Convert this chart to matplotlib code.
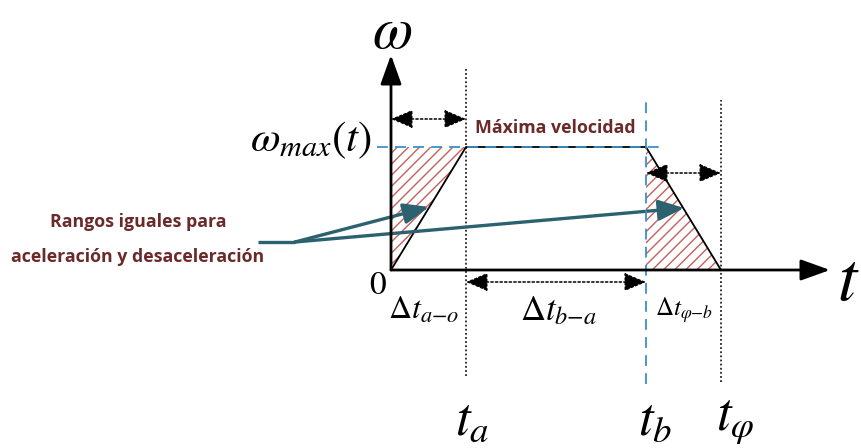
import matplotlib.pyplot as plt
from matplotlib.patches import Polygon

plt.rcParams['mathtext.fontset'] = 'stix'
plt.rcParams['font.family'] = ['DejaVu Sans']

# tiempos característicos y velocidad máxima (unidades arbitrarias)
t_a = 1.0
t_b = 3.4
t_phi = 4.4
w_max = 1.64

# perfil trapezoidal de velocidad
perfil_t = [0, t_a, t_b, t_phi]
perfil_w = [0, w_max, w_max, 0]

rojo_txt = '#6b2a2a'
teal = '#2c6170'
azul = '#3b8fc9'
rojo_hatch = '#c65f5c'

S = 75.0            # px por unidad
X0, Y0 = 391, 270   # origen en px

fig = plt.figure(figsize=(8.62, 4.48), dpi=100)
ax = fig.add_axes([0, 0, 1, 1])
ax.set_xlim(-X0 / S, (862 - X0) / S)
ax.set_ylim(-(448 - Y0) / S, Y0 / S)
ax.axis('off')


def px(x, y):
    # posición en px de la imagen -> coordenadas de datos
    return (x - X0) / S, (Y0 - y) / S


# zonas rayadas (aceleración / desaceleración)
for pts in ([(0, 0), (0, w_max), (t_a, w_max)],
            [(t_b, w_max), (t_b, 0), (t_phi, 0)]):
    ax.add_patch(Polygon(pts, closed=True, facecolor='white', edgecolor=rojo_hatch,
                         hatch='///', lw=0, zorder=1))

# perfil
ax.plot(perfil_t, perfil_w, color='black', lw=1.3, zorder=3)
ax.plot([px(377, 0)[0], px(665, 0)[0]], [w_max, w_max], color=azul, lw=1.3,
        dashes=(6, 4), zorder=4)

# lineas verticales
ax.plot([t_a, t_a], [px(0, 376)[1], px(0, 68)[1]], color='black', lw=1.1,
        linestyle=(0, (1.2, 1.5)), zorder=2)
ax.plot([t_phi, t_phi], [px(0, 382)[1], px(0, 100)[1]], color='black', lw=1.1,
        linestyle=(0, (1.2, 1.5)), zorder=2)
ax.plot([t_b, t_b], [px(0, 384)[1], px(0, 100)[1]], color=azul, lw=1.3,
        dashes=(6, 4), zorder=4)

# ejes con flecha
ejes = dict(arrowstyle='-|>,head_length=1.0,head_width=0.36', mutation_scale=18,
            lw=2.0, color='black', shrinkA=0, shrinkB=0)
ax.annotate('', xy=px(391, 55), xytext=(0, 0), arrowprops=ejes, zorder=5)
ax.annotate('', xy=px(830, 270), xytext=(0, 0), arrowprops=ejes, zorder=5)

# flechas de intervalos
flecha = dict(arrowstyle='<|-|>,head_length=0.9,head_width=0.38', mutation_scale=15,
              lw=1.1, color='black', linestyle=(0, (1.5, 1.5)), shrinkA=0, shrinkB=0)
ax.annotate('', xy=(t_a, px(0, 119)[1]), xytext=(0, px(0, 119)[1]), arrowprops=flecha)
ax.annotate('', xy=(t_phi, px(0, 173)[1]), xytext=(t_b, px(0, 173)[1]), arrowprops=flecha)
ax.annotate('', xy=(t_b, px(0, 282)[1]), xytext=(t_a, px(0, 282)[1]), arrowprops=flecha)

# flechas de la anotación
ax.plot([px(258, 0)[0], px(295, 0)[0]], [px(0, 242)[1]] * 2, color=teal, lw=2.4,
        solid_capstyle='butt')
nota = dict(arrowstyle='-|>,head_length=1.1,head_width=0.45', mutation_scale=14,
            lw=2.4, color=teal, shrinkA=0, shrinkB=0)
ax.annotate('', xy=px(429, 207), xytext=px(295, 242), arrowprops=nota)
ax.annotate('', xy=px(684, 208), xytext=px(295, 242), arrowprops=nota)

# textos
ax.text(*px(392, 48), r'$\omega$', fontsize=42, ha='center', va='baseline')
ax.text(*px(372, 140), r'$\omega_{max}(t)$', fontsize=31, ha='right', va='center')
ax.text(*px(475, 128), 'Máxima velocidad', fontsize=12.8, fontweight='bold',
        family='Open Sans', color=rojo_txt, ha='left', va='center')
ax.text(*px(138, 222), 'Rangos iguales para', fontsize=12.8, fontweight='bold',
        family='Open Sans', color=rojo_txt, ha='center', va='center')
ax.text(*px(138, 257), 'aceleración y desaceleración', fontsize=12.8, fontweight='bold',
        family='Open Sans', color=rojo_txt, ha='center', va='center')
ax.text(*px(378, 284), r'$\mathrm{0}$', fontsize=24, ha='center', va='center')
ax.text(*px(837, 280), r'$t$', fontsize=50, ha='left', va='center')
ax.text(*px(388, 310), r'$\Delta t_{a{-}o}$', fontsize=23, ha='left', va='center')
ax.text(*px(520, 310), r'$\Delta t_{b{-}a}$', fontsize=25, ha='left', va='center')
ax.text(*px(655, 310), r'$\Delta t_{\varphi{-}b}$', fontsize=18, ha='left', va='center')
ax.text(*px(455, 420), r'$t_a$', fontsize=38, ha='left', va='center')
ax.text(*px(638, 420), r'$t_b$', fontsize=38, ha='left', va='center')
ax.text(*px(716, 420), r'$t_\varphi$', fontsize=38, ha='left', va='center')

fig.savefig('out.png', dpi=100)
